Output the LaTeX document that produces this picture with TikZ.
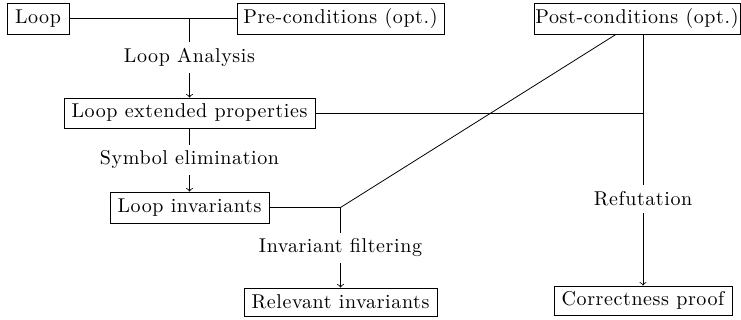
\documentclass[tikz,border=0pt]{standalone}
\usepackage{fontspec}
\setmainfont{Latin Modern Roman}[LetterSpace=3]
\usetikzlibrary{calc}
\begin{document}
\begin{tikzpicture}[x=0.5pt,y=-0.5pt,
  box/.style={draw, inner sep=0pt, minimum height=15pt},
  lbl/.style={inner sep=0pt, minimum height=15pt},
  every node/.style={font=\fontsize{10pt}{12pt}\selectfont},
  >=to]
\useasboundingbox (0,0) rectangle (741,320);
\node[box, minimum width=31pt, minimum height=15.5pt] (loop) at (38,18.5) {Loop};
\node[box, minimum width=103.5pt, minimum height=15.5pt] (pre) at (340.5,18.5) {Pre-conditions (opt.)};
\node[box, minimum width=103pt, minimum height=15.5pt] (post) at (637,18.5) {Post-conditions (opt.)};
\node[box, minimum width=125.5pt] (lep) at (189.5,113) {Loop extended properties};
\node[box, minimum width=79.5pt, minimum height=15.5pt] (li) at (189.5,207.5) {Loop invariants};
\node[box, minimum width=96.5pt, minimum height=14pt] (ri) at (340.5,302) {Relevant invariants};
\node[box, minimum width=89pt, minimum height=14.5pt] (cp) at (643,300.5) {Correctness proof};
\node[lbl] (la) at (189.5,57.5) {Loop Analysis};
\node[lbl] (se) at (189.5,160) {Symbol elimination};
\node[lbl] (if) at (340.5,248) {Invariant filtering};
\node[lbl, minimum height=14pt] (ref) at (643,199) {Refutation};
\coordinate (j1) at (189.5,18.5);
\coordinate (j2) at (643,113);
\coordinate (j3) at (340.5,207.5);
\coordinate (d) at ($(post.south)+(-21,0)$);
\draw (loop.east) -- (pre.west);
\draw (j1) -- (la.north);
\draw[->] (la.south) -- (lep.north);
\draw (lep.south) -- (se.north);
\draw[->] (se.south) -- (li.north);
\draw (li.east) -- (j3);
\draw (d) -- (j3);
\draw (j3) -- (if.north);
\draw[->] (if.south) -- (ri.north);
\draw (lep.east) -- (j2);
\draw (post.south -| j2) -- (ref.north);
\draw[->] (ref.south) -- (cp.north);
\end{tikzpicture}
\end{document}
